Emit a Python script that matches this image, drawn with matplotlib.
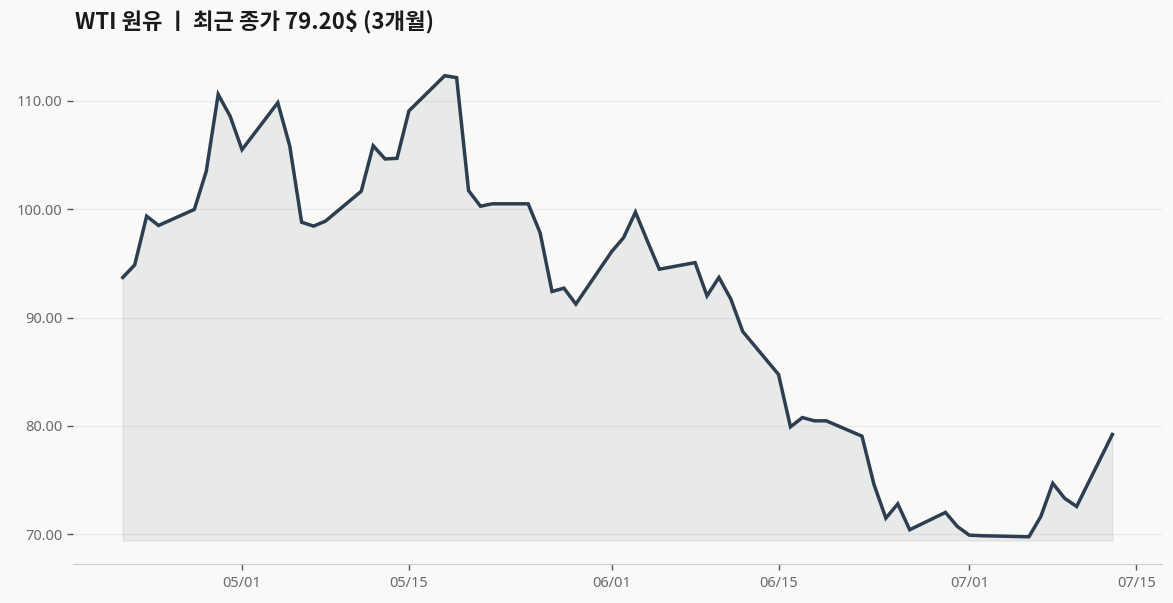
import numpy as np
import pandas as pd
import matplotlib
matplotlib.use("Agg")
import matplotlib.pyplot as plt
import matplotlib.dates as mdates
from matplotlib.ticker import MultipleLocator, FormatStrFormatter

plt.rcParams['font.family'] = ['Noto Sans', 'Noto Sans CJK KR', 'DejaVu Sans']

# ---- data ----
dates = ["2026-04-21", "2026-04-22", "2026-04-23", "2026-04-24", "2026-04-27",
         "2026-04-28", "2026-04-29", "2026-04-30", "2026-05-01", "2026-05-04",
         "2026-05-05", "2026-05-06", "2026-05-07", "2026-05-08", "2026-05-11",
         "2026-05-12", "2026-05-13", "2026-05-14", "2026-05-15", "2026-05-18",
         "2026-05-19", "2026-05-20", "2026-05-21", "2026-05-22", "2026-05-25",
         "2026-05-26", "2026-05-27", "2026-05-28", "2026-05-29", "2026-06-01",
         "2026-06-02", "2026-06-03", "2026-06-04", "2026-06-05", "2026-06-08",
         "2026-06-09", "2026-06-10", "2026-06-11", "2026-06-12", "2026-06-15",
         "2026-06-16", "2026-06-17", "2026-06-18", "2026-06-19", "2026-06-22",
         "2026-06-23", "2026-06-24", "2026-06-25", "2026-06-26", "2026-06-29",
         "2026-06-30", "2026-07-01", "2026-07-02", "2026-07-06", "2026-07-07",
         "2026-07-08", "2026-07-09", "2026-07-10", "2026-07-13"]
close = [93.70, 94.86, 99.36, 98.50, 99.98,
         103.50, 110.60, 108.60, 105.50, 109.84,
         105.86, 98.80, 98.44, 98.90, 101.66,
         105.86, 104.64, 104.70, 109.08, 112.33,
         112.15, 101.72, 100.28, 100.50, 100.50,
         97.83, 92.40, 92.71, 91.24, 96.08,
         97.37, 99.73, 97.06, 94.46, 95.07,
         92.00, 93.70, 91.70, 88.70, 84.74,
         79.90, 80.76, 80.46, 80.46, 79.04,
         74.60, 71.47, 72.79, 70.40, 72.00,
         70.70, 69.90, 69.85, 69.75, 71.63,
         74.69, 73.30, 72.55, 79.20]
xtick_dates = ["2026-05-01", "2026-05-15", "2026-06-01", "2026-06-15", "2026-07-01", "2026-07-15"]

title = "WTI 원유 ㅣ 최근 종가 79.20$ (3개월)"

# ---- style ----
bg = '#f9f9f8'
line_col = '#2c3e50'

x = pd.to_datetime(dates)
y = np.array(close)

fig = plt.figure(figsize=(11.73, 6.03), dpi=100, facecolor=bg)
ax = fig.add_axes([0.0625, 0.065, 0.928, 0.848])
ax.set_facecolor(bg)

ax.fill_between(x, y, y.min() * 0.995, color=line_col, alpha=0.08, linewidth=1)
ax.plot(x, y, color=line_col, linewidth=2.5, solid_joinstyle='miter')

ax.margins(x=0.05, y=0.05)
ax.yaxis.set_major_locator(MultipleLocator(10))
ax.yaxis.set_major_formatter(FormatStrFormatter('%.2f'))
ax.set_xticks(pd.to_datetime(xtick_dates))
ax.xaxis.set_major_formatter(mdates.DateFormatter('%m/%d'))

ax.grid(axis='y', color='#ebebeb', linewidth=1)
ax.set_axisbelow(True)
for s in ['left', 'top', 'right']:
    ax.spines[s].set_visible(False)
ax.spines['bottom'].set_color('#cccccc')
ax.tick_params(axis='both', colors='#555555', labelcolor='#6a6a6a', labelsize=10.5, length=4, width=1)
ax.tick_params(axis='x', pad=5)
ax.tick_params(axis='y', pad=4)

fig.text(75 / 1173, 1 - 22 / 603, title, fontsize=16, fontweight='bold', color='#1a1a1a',
         family=['Noto Sans CJK KR', 'DejaVu Sans'], ha='left', va='center')

fig.savefig('out.png', dpi=100, facecolor=bg)
